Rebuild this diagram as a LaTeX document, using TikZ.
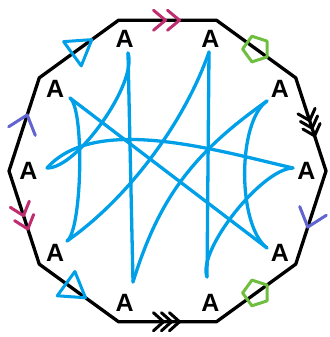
\documentclass[tikz,border=0pt]{standalone}
\usepackage{fontspec}
\setmainfont{Liberation Sans}
\usepackage{tikz}
\usetikzlibrary{calc}
\definecolor{geoblue}{RGB}{0,160,232}
\definecolor{edgepink}{RGB}{192,45,110}
\definecolor{edgeviolet}{RGB}{98,100,208}
\definecolor{edgegreen}{RGB}{112,190,64}

\begin{document}
\begin{tikzpicture}[
        x=1pt, y=1pt,
        side/.style={draw=black, line width=3.3pt, line join=round},
        geo/.style={draw=geoblue, line width=3.3pt, line cap=round},
        edgemark/.style={line width=3pt, line cap=round, line join=round},
        lbl/.style={font=\fontsize{25}{25}\selectfont\bfseries, inner sep=0pt},
        chevone/.pic={\draw (-7,14) -- (10,0) -- (-7,-14);},
        chevtwo/.pic={\draw (-14,10) -- (-2,0) -- (-14,-10) (0,10) -- (12,0) -- (0,-10);},
        chevthree/.pic={\draw (-14,9) -- (-4,0) -- (-14,-9) (-6,9) -- (4,0) -- (-6,-9) (2,9) -- (12,0) -- (2,-9);},
        tri/.pic={\draw (16,0) -- (-8,15) -- (-8,-15) -- cycle;},
        penta/.pic={\draw (0:13.5) -- (72:13.5) -- (144:13.5) -- (216:13.5) -- (288:13.5) -- cycle;}
    ]
    \useasboundingbox (0,0) rectangle (329,337);

    % Decagon corners and labels
    \coordinate (o) at (167.5,166);
    \foreach \k in {0,...,9} {
        \coordinate (v\k) at ($(o)+(36*\k:158.5)$);
        \node[lbl] (a\k) at ($(o)+(36*\k:139)$) {A};
    }
    \draw[side] (v0) -- (v1) -- (v2) -- (v3) -- (v4) -- (v5) -- (v6) -- (v7) -- (v8) -- (v9) -- cycle;

    % Edge markings
    \path ($(v3)!0.5!(v2)$) pic[edgemark, edgepink] {chevtwo};
    \path ($(v2)!0.5!(v1)$) pic[edgemark, edgegreen, rotate=-36] {penta};
    \path ($(v1)!0.5!(v0)$) pic[edgemark, black, rotate=-72] {chevthree};
    \path ($(v0)!0.5!(v9)$) pic[edgemark, edgeviolet, rotate=-108] {chevone};
    \path ($(v8)!0.5!(v9)$) pic[edgemark, edgegreen, rotate=36] {penta};
    \path ($(v7)!0.5!(v8)$) pic[edgemark, black] {chevthree};
    \path ($(v6)!0.42!(v7)$) pic[edgemark, geoblue, rotate=-36] {tri};
    \path ($(v5)!0.5!(v6)$) pic[edgemark, edgepink, rotate=-72] {chevtwo};
    \path ($(v5)!0.5!(v4)$) pic[edgemark, edgeviolet, rotate=72] {chevone};
    \path ($(v4)!0.5!(v3)$) pic[edgemark, geoblue, rotate=36] {tri};

    % Curve ends
    \coordinate (p0) at (293,169);
    \coordinate (p1) at (267,236);
    \coordinate (p2) at (209,285);
    \coordinate (p3) at (128,284);
    \coordinate (p4) at (70,239);
    \coordinate (p5) at (47,169);
    \coordinate (p6) at (67,96);
    \coordinate (p7) at (133,55);
    \coordinate (p8) at (207,60);
    \coordinate (p9) at (267,89);

    % Curves
    \draw[geo] (p3) -- (p7);
    \draw[geo] (p3) .. controls ($(p3)!0.25!(o)$) and ($(p5)!0.25!(o)$) .. (p5);
    \draw[geo] (p2) -- (p8);
    \draw[geo] (p2) .. controls ($(p2)!0.6!(o)$) and ($(p6)!0.6!(o)$) .. (p6);
    \draw[geo] (p1) .. controls ($(p1)!0.75!(o)$) and ($(p7)!0.75!(o)$) .. (p7);
    \draw[geo] (p1) .. controls ($(p1)!0.3!(o)$) and ($(p9)!0.3!(o)$) .. (p9);
    \draw[geo] (p5) .. controls (95,223) and (215,187) .. (p0);
    \draw[geo] (p0) .. controls ($(p0)!0.25!(o)$) and ($(p8)!0.25!(o)$) .. (p8);
    \draw[geo] (p4) .. controls ($(p4)!0.15!(o)$) and ($(p6)!0.15!(o)$) .. (p6);
    \draw[geo] (p4) -- (p9);

\end{tikzpicture}
\end{document}
